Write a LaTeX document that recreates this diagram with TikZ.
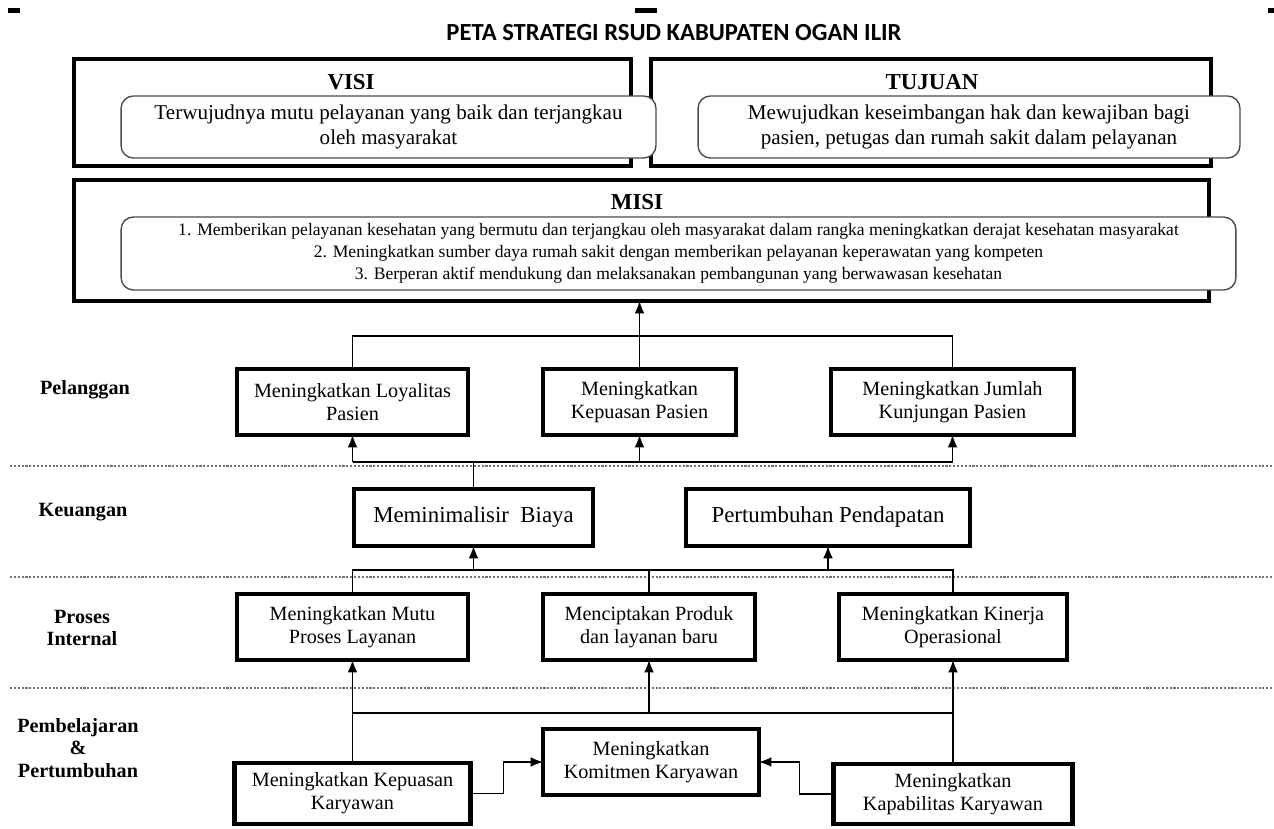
\documentclass[tikz,border=0pt]{standalone}
\usepackage{fontspec}
\setmainfont{Liberation Serif}
\newfontfamily\titlefont{Carlito}
\usetikzlibrary{arrows.meta}

\begin{document}
\begin{tikzpicture}[x=0.02cm,y=-0.02cm,>={Latex[length=7pt,width=5.5pt]},
	frame/.style={draw=black,line width=2.4pt,inner sep=0pt,outer sep=0pt},
	head/.style={anchor=base,font=\fontsize{13}{15}\selectfont\bfseries},
	inbox/.style={draw=black!70,fill=white,rounded corners=7pt,line width=0.8pt,align=center,inner sep=0pt,outer sep=0pt},
	goal/.style={draw=black,line width=2.4pt,fill=white,align=center,inner sep=0pt,outer sep=0pt,font=\fontsize{11.5}{13}\selectfont},
	persp/.style={align=center,font=\fontsize{11.5}{13}\selectfont\bfseries},
	sep/.style={densely dotted,line width=1.2pt,black!55},
	link/.style={line width=0.7pt}]
	\useasboundingbox (0,0) rectangle (1274,828);

	% marks and title
	\fill (8,8) rectangle (20,13);
	\fill (635,8) rectangle (657,13);
	\fill (1268,8) rectangle (1274,13);
	\node (judul) at (674,33) {\titlefont\fontsize{14}{16}\selectfont\bfseries PETA STRATEGI RSUD KABUPATEN OGAN ILIR};

	% visi, tujuan, misi
	\node [frame,minimum width=11.14cm,minimum height=2.14cm] at (352.5,112.5) (visi) {};
	\node [frame,minimum width=11.2cm,minimum height=2.14cm] at (931,112.5) (tujuan) {};
	\node [frame,minimum width=22.7cm,minimum height=2.42cm] at (641.5,240.5) (misi) {};
	\node [head] at (351,90) (visi_head) {VISI};
	\node [head] at (932,90) (tujuan_head) {TUJUAN};
	\node [head] at (637,209) (misi_head) {MISI};
	\node [inbox,minimum width=10.7cm,minimum height=1.24cm,font=\fontsize{12}{14.5}\selectfont] at (388.5,127) (visi_txt) {Terwujudnya mutu pelayanan yang baik dan terjangkau\\oleh masyarakat};
	\node [inbox,minimum width=10.84cm,minimum height=1.24cm,font=\fontsize{12}{14.5}\selectfont] at (969,127) (tujuan_txt) {Mewujudkan keseimbangan hak dan kewajiban bagi\\pasien, petugas dan rumah sakit dalam pelayanan};
	\node [inbox,minimum width=22.3cm,minimum height=1.46cm,font=\fontsize{10}{12.5}\selectfont] at (678.5,253.5) (misi_txt) {1. Memberikan pelayanan kesehatan yang bermutu dan terjangkau oleh masyarakat dalam rangka meningkatkan derajat kesehatan masyarakat\\2. Meningkatkan sumber daya rumah sakit dengan memberikan pelayanan keperawatan yang kompeten\\3. Berperan aktif mendukung dan melaksanakan pembangunan yang berwawasan kesehatan};

	% perspektif
	\node [persp] at (85,390) (lbl_pl) {Pelanggan};
	\node [persp] at (83,512) (lbl_kg) {Keuangan};
	\node [persp] at (82,628) (lbl_pi) {Proses\\Internal};
	\node [persp] at (78,748) (lbl_pb) {Pembelajaran\\\&\\Pertumbuhan};

	\draw [sep] (10,466) -- (1274,466);
	\draw [sep] (10,577) -- (1274,577);
	\draw [sep] (10,688) -- (1274,688);

	% sasaran
	\node [goal,minimum width=4.62cm,minimum height=1.32cm] at (352.5,402) (pl_loyal) {Meningkatkan Loyalitas\\Pasien};
	\node [goal,minimum width=3.86cm,minimum height=1.32cm] at (639.5,402) (pl_puas) {Meningkatkan\\Kepuasan Pasien};
	\node [goal,minimum width=4.86cm,minimum height=1.32cm] at (952.5,402) (pl_jumlah) {Meningkatkan Jumlah\\Kunjungan Pasien};

	\node [goal,minimum width=4.78cm,minimum height=1.14cm,font=\fontsize{13}{15}\selectfont] at (473.5,517.5) (kg_biaya) {Meminimalisir\ \ Biaya};
	\node [goal,minimum width=5.68cm,minimum height=1.14cm,font=\fontsize{13}{15}\selectfont] at (828,517.5) (kg_dapat) {Pertumbuhan Pendapatan};

	\node [goal,minimum width=4.62cm,minimum height=1.32cm] at (352.5,627) (pi_mutu) {Meningkatkan Mutu\\Proses Layanan};
	\node [goal,minimum width=4.24cm,minimum height=1.32cm] at (649,627) (pi_cipta) {Menciptakan Produk\\dan layanan baru};
	\node [goal,minimum width=4.56cm,minimum height=1.32cm] at (953,627) (pi_kinerja) {Meningkatkan Kinerja\\Operasional};

	\node [goal,minimum width=4.32cm,minimum height=1.32cm] at (651,762) (pb_komitmen) {Meningkatkan\\Komitmen Karyawan};
	\node [goal,minimum width=4.72cm,minimum height=1.22cm] at (352.5,793.5) (pb_kepuasan) {Meningkatkan Kepuasan\\Karyawan};
	\node [goal,minimum width=4.78cm,minimum height=1.2cm] at (953,794) (pb_kapab) {Meningkatkan\\Kapabilitas Karyawan};

	\coordinate (bus_misi) at (639.5,336);
	\coordinate (bus_pl) at (473.5,462);
	\coordinate (bus_kg) at (649,570);
	\coordinate (bus_pi) at (649,713);

	% pelanggan ke misi
	\draw [link] (pl_loyal.north) |- (bus_misi) -| (pl_jumlah.north);
	\draw [link,->] (pl_puas.north) -- (pl_puas.north |- misi.south);

	% keuangan ke pelanggan
	\draw [link] (kg_biaya.north) -- (bus_pl);
	\draw [link] (pl_loyal.south |- bus_pl) -- (pl_jumlah.south |- bus_pl);
	\draw [link,->] (pl_loyal.south |- bus_pl) -- (pl_loyal.south);
	\draw [link,->] (pl_puas.south |- bus_pl) -- (pl_puas.south);
	\draw [link,->] (pl_jumlah.south |- bus_pl) -- (pl_jumlah.south);

	% proses internal ke keuangan
	\draw [link] (pi_mutu.north) |- (bus_kg) -| (pi_kinerja.north);
	\draw [link] (pi_cipta.north) -- (bus_kg);
	\draw [link,->] (kg_biaya.south |- bus_kg) -- (kg_biaya.south);
	\draw [link,->] (kg_dapat.south |- bus_kg) -- (kg_dapat.south);

	% pembelajaran ke proses internal
	\draw [link,->] (pb_kepuasan.north) -- (pi_mutu.south);
	\draw [link,->] (pb_kapab.north) -- (pi_kinerja.south);
	\draw [link] (pi_mutu.south |- bus_pi) -- (pi_kinerja.south |- bus_pi);
	\draw [link,->] (bus_pi) -- (pi_cipta.south);
	\draw [link,->] (pb_kepuasan.east) -- ++(33,0) |- (pb_komitmen.west);
	\draw [link,->] (pb_kapab.west) -- ++(-34,0) |- (pb_komitmen.east);
\end{tikzpicture}
\end{document}
